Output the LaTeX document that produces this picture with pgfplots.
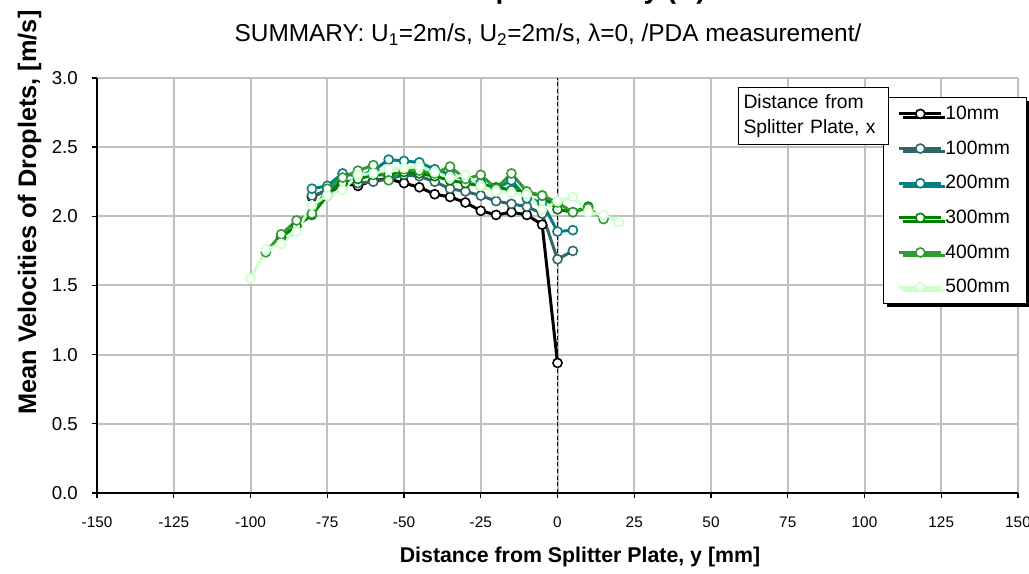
\documentclass[border=0pt]{standalone}
\usepackage{fontspec}
\setmainfont{Liberation Sans}
\usepackage{pgfplots}
\pgfplotsset{compat=1.18}
\usetikzlibrary{shadows}
\definecolor{gridgray}{HTML}{C0C0C0}
\definecolor{cA}{HTML}{000000}
\definecolor{cB}{HTML}{336666}
\definecolor{cC}{HTML}{008080}
\definecolor{cD}{HTML}{008000}
\definecolor{cE}{HTML}{339933}
\definecolor{cF}{HTML}{CCFFCC}
\pgfplotsset{ser/.style={#1, line width=2.25pt, mark=*, mark size=3.4pt,
  mark options={draw=#1, fill=white, line width=1.2pt, solid}}}
\begin{document}
\begin{tikzpicture}[x=0.75pt,y=0.75pt]
\begin{axis}[
  at={(72.75pt,60.75pt)}, anchor=south west,
  scale only axis, width=690.75pt, height=311.25pt,
  xmin=-150, xmax=150, ymin=0, ymax=3,
  xtick={-150,-125,...,150},
  ytick={0,0.5,1,1.5,2,2.5,3},
  axis lines*=left,
  axis line style={-, black, line width=1.1pt},
  tick align=outside, tick pos=left,
  major tick length=3.75pt,
  tick style={black, line width=1pt},
  grid=major,
  major grid style={gridgray, line width=1.5pt},
  /pgf/number format/assume math mode=true,
  yticklabel style={/pgf/number format/fixed, /pgf/number format/fixed zerofill, /pgf/number format/precision=1,
     font=\fontsize{14}{17}\selectfont, inner sep=0pt, anchor=east, xshift=-10.5pt},
  xticklabel style={font=\fontsize{11.5}{14}\selectfont, inner sep=0pt, anchor=north, yshift=-14.25pt},
  legend style={at={(0.8534,0.9542)}, anchor=north west, draw=black, line width=0.75pt, fill=white,
     font=\fontsize{14.5}{17}\selectfont, inner xsep=10.75pt, inner ysep=4.5pt, row sep=10.35pt,
     drop shadow={shadow xshift=2.5pt, shadow yshift=-2.5pt, fill=black, opacity=1}},
  legend cell align=left,
  legend image code/.code={\draw[mark repeat=2,mark phase=2,#1] plot coordinates {(0pt,0pt) (15.75pt,0pt) (31.5pt,0pt)};},
]
\addplot[black, line width=0.75pt, dash pattern=on 3pt off 2pt, forget plot] coordinates {(0,0) (0,3)};

\addplot[ser=cA] coordinates {
(-80,2.14) (-75,2.19) (-70,2.24) (-65,2.22) (-60,2.26) (-55,2.27) (-50,2.24) (-45,2.21)
(-40,2.16) (-35,2.14) (-30,2.10) (-25,2.04) (-20,2.01) (-15,2.03) (-10,2.01) (-5,1.94) (0,0.94)};
\addlegendentry{10mm}

\addplot[ser=cB] coordinates {
(-80,2.15) (-75,2.18) (-70,2.25) (-65,2.24) (-60,2.25) (-55,2.27) (-50,2.30) (-45,2.29)
(-40,2.25) (-35,2.20) (-30,2.18) (-25,2.15) (-20,2.11) (-15,2.09) (-10,2.07) (-5,2.02) (0,1.69) (5,1.75)};
\addlegendentry{100mm}

\addplot[ser=cC] coordinates {
(-80,2.20) (-75,2.22) (-70,2.31) (-65,2.29) (-60,2.33) (-55,2.41) (-50,2.40) (-45,2.39)
(-40,2.34) (-35,2.30) (-30,2.27) (-25,2.24) (-20,2.20) (-15,2.26) (-10,2.13) (-5,2.10) (0,1.89) (5,1.90)};
\addlegendentry{200mm}

\addplot[ser=cD] coordinates {
(-90,1.85) (-85,1.93) (-80,2.01) (-75,2.15) (-70,2.24) (-65,2.27) (-60,2.30) (-55,2.30)
(-50,2.32) (-45,2.31) (-40,2.29) (-35,2.26) (-30,2.24) (-25,2.22) (-20,2.21) (-15,2.19)
(-10,2.17) (-5,2.15) (0,2.05) (5,2.03) (10,2.07)};
\addlegendentry{300mm}

\addplot[ser=cE] coordinates {
(-95,1.74) (-90,1.87) (-85,1.97) (-80,2.02) (-75,2.20) (-70,2.28) (-65,2.33) (-60,2.37)
(-55,2.26) (-50,2.34) (-45,2.33) (-40,2.31) (-35,2.36) (-30,2.27) (-25,2.30) (-20,2.20)
(-15,2.31) (-10,2.18) (-5,2.15) (0,2.10) (5,2.03) (10,2.06) (15,1.98)};
\addlegendentry{400mm}

\addplot[ser=cF] coordinates {
(-100,1.55) (-95,1.76) (-90,1.80) (-85,1.89) (-80,2.08) (-75,2.15) (-70,2.19) (-65,2.30)
(-60,2.31) (-55,2.34) (-50,2.35) (-45,2.36) (-40,2.32) (-35,2.28) (-30,2.30) (-25,2.22)
(-20,2.18) (-15,2.17) (-10,2.16) (-5,2.05) (0,2.11) (5,2.14) (10,2.03) (15,2.01) (20,1.96)};
\addlegendentry{500mm}
\end{axis}

\node[draw=black, line width=0.75pt, fill=white, anchor=north west, align=left, text width=105pt,
  inner xsep=3.75pt, inner ysep=5.4pt, font=\fontsize{14.5}{18.75}\selectfont] at (738,487)
  {Distance from\\Splitter Plate, x};

\node[anchor=base, font=\bfseries\fontsize{21}{25}\selectfont] at (537,575) {Mean Droplet Velocity (U)};
\node[anchor=base, font=\fontsize{18.3}{21}\selectfont] at (548,532)
  {SUMMARY: U\textsubscript{1}=2m/s, U\textsubscript{2}=2m/s, λ=0, /PDA measurement/};
\node[anchor=base, font=\bfseries\fontsize{16}{19}\selectfont] at (580,11)
  {Distance from Splitter Plate, y [mm]};
\node[anchor=base, rotate=90, font=\bfseries\fontsize{19}{23}\selectfont] at (36,361.5)
  {Mean Velocities of Droplets, [m/s]};

\pgfresetboundingbox
\useasboundingbox (0,0) rectangle (1029,574);
\end{tikzpicture}
\end{document}
